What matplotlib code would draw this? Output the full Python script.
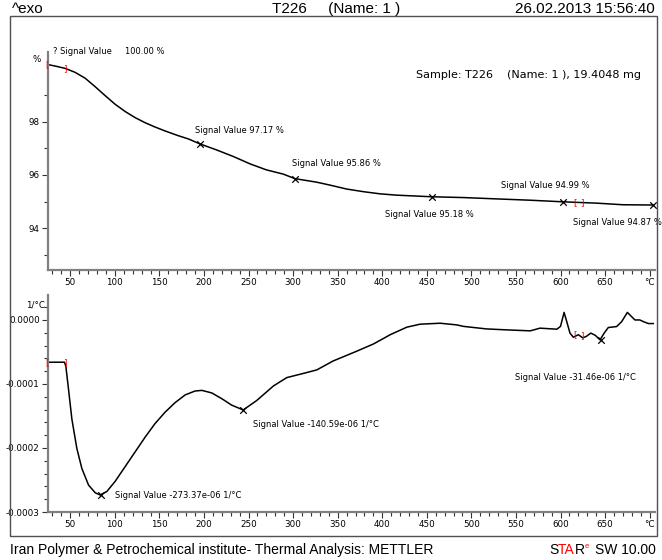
import numpy as np
import matplotlib
matplotlib.use("Agg")
import matplotlib.pyplot as plt
from matplotlib.patches import Rectangle
from matplotlib.ticker import MultipleLocator, FixedLocator, FuncFormatter

# TGA curve (temperature in degC, mass in %)
tg_T = [24, 34, 44.3, 55.5, 66.7, 78, 89, 100.4, 111.6, 122.8, 134, 145,
        156.4, 171.4, 182.6, 195, 214, 233, 252, 270, 289, 302, 326, 341,
        360, 379, 397.5, 416, 455.5, 491, 528, 566, 603, 640.5, 670, 704]
tg_v = [100.15, 100.08, 100.00, 99.85, 99.63, 99.31, 98.98, 98.65, 98.38,
        98.15, 97.96, 97.80, 97.65, 97.47, 97.35, 97.17, 96.94, 96.69, 96.41,
        96.19, 96.03, 95.86, 95.73, 95.62, 95.47, 95.37, 95.29, 95.24, 95.18,
        95.15, 95.10, 95.05, 94.99, 94.94, 94.88, 94.87]

# DTG curve (1/degC, in units of 1e-6)
dtg_T = [24, 43.5, 45, 48, 51.8, 57.4, 63, 70.5, 78, 83.5, 91, 100.4, 111.6,
         122.8, 134, 145, 156.4, 167.7, 179, 190, 197.6, 208.8, 220, 231, 244,
         259, 278, 293, 311.5, 326.6, 345, 371, 390, 409, 427.5, 442.4, 465,
         483.6, 491, 517, 540, 566, 577, 596, 600, 604, 607, 610.6, 614.4,
         620, 625, 629, 634, 639, 644.3, 649, 653.6, 663, 668.6, 675, 683.5,
         689, 693, 698.5, 704]
dtg_v = [-66, -66, -72, -108, -155, -201, -232, -258, -270, -273.4, -268,
         -252, -229, -206, -183, -162, -144, -129, -117, -111, -110, -114,
         -123, -133, -140.6, -126, -103, -90, -83.5, -78, -64, -49, -37.6,
         -23, -11.3, -6.6, -5.1, -7.7, -10, -14, -15.5, -17, -12.8, -14.4,
         -10, 11.8, -2.6, -20.5, -27, -23, -28, -25.6, -20.5, -24, -31,
         -20.5, -11.8, -10.3, -2.6, 11.8, 0, 0, -2.6, -5.6, -5.6]

# evaluated points
tg_mark_T = [195, 302, 455.5, 603, 704]
tg_mark_v = [97.17, 95.86, 95.18, 94.99, 94.87]
tg_mark_lbl = ["Signal Value 97.17 %", "Signal Value 95.86 %",
               "Signal Value 95.18 %", "Signal Value 94.99 %",
               "Signal Value 94.87 %"]
dtg_mark_T = [84, 243.6, 645]
dtg_mark_v = [-273.37, -140.59, -31.46]
dtg_mark_lbl = ["Signal Value -273.37e-06 1/\u00b0C",
                "Signal Value -140.59e-06 1/\u00b0C",
                "Signal Value -31.46e-06 1/\u00b0C"]

x_ticks = [50, 100, 150, 200, 250, 300, 350, 400, 450, 500, 550, 600, 650, 700]
x_labels = ["50", "100", "150", "200", "250", "300", "350", "400", "450",
            "500", "550", "600", "650", "\u00b0C"]

narrow = ["Liberation Sans", "DejaVu Sans"]
cond = ["DejaVu Sans Condensed", "DejaVu Sans"]
plt.rcParams["font.family"] = cond

fig = plt.figure(figsize=(6.62, 5.6), dpi=100)
W, H = 662, 560


def box(l, t, r, b):
    return [l / W, 1 - b / H, (r - l) / W, (b - t) / H]


ax1 = fig.add_axes(box(48, 52, 655, 270))
ax2 = fig.add_axes(box(48, 295, 655, 512))

spine_c = "#808080"
for ax in (ax1, ax2):
    for s in ("top", "right"):
        ax.spines[s].set_visible(False)
    for s in ("left", "bottom"):
        ax.spines[s].set_color(spine_c)
        ax.spines[s].set_linewidth(1.6)
    ax.set_xlim(25, 706)
    ax.xaxis.set_major_locator(FixedLocator(x_ticks))
    ax.set_xticklabels(x_labels)
    ax.xaxis.set_minor_locator(MultipleLocator(10))
    ax.tick_params(which="both", color="#333333", labelsize=6.3, pad=2)
    ax.tick_params(which="major", length=4, width=0.8)
    ax.tick_params(which="minor", length=3, width=0.8)

ax1.plot(tg_T, tg_v, color="black", lw=1.1)
ax1.scatter(tg_mark_T, tg_mark_v, marker="x", color="black", s=22, lw=0.9,
            zorder=3, clip_on=False)
ax1.set_ylim(92.43, 100.615)
ax1.yaxis.set_major_locator(FixedLocator([94, 96, 98]))
ax1.yaxis.set_minor_locator(FixedLocator([93, 95, 97, 99]))
ax1.text(-0.012, 0.985, "%", transform=ax1.transAxes, ha="right", va="top",
         fontsize=6.3)

ax2.plot(dtg_T, np.array(dtg_v) * 1e-6, color="black", lw=1.1)
ax2.scatter(dtg_mark_T, np.array(dtg_mark_v) * 1e-6, marker="x",
            color="black", s=22, lw=0.9, zorder=3)
ax2.set_ylim(-0.0003, 0.000039)
ax2.yaxis.set_major_locator(FixedLocator([0, -0.0001, -0.0002, -0.0003]))
ax2.yaxis.set_minor_locator(MultipleLocator(0.00002))
ax2.yaxis.set_major_formatter(FuncFormatter(lambda v, p: "%.4f" % v
                                            if abs(v) > 1e-9 else "0.0000"))
ax2.text(-0.005, 0.975, "1/\u00b0C", transform=ax2.transAxes, ha="right",
         va="top", fontsize=6.3)

# labels of evaluated points
fs = 6.0
ax1.text(31, 100.615, "? Signal Value     100.00 %", fontsize=fs,
         va="center", clip_on=False)
tg_lbl_xy = [(190, 97.66), (299, 96.41), (403, 94.50), (533, 95.59),
             (614, 94.20)]
for (x, y), s in zip(tg_lbl_xy, tg_mark_lbl):
    ax1.text(x, y, s, fontsize=fs, va="center", clip_on=False)
dtg_lbl_xy = [(100, -0.000275), (255, -0.000164), (549, -0.0000906)]
for (x, y), s in zip(dtg_lbl_xy, dtg_mark_lbl):
    ax2.text(x, y, s, fontsize=fs, va="center")

# evaluation limits (red brackets)
for ax, pts in ((ax1, [(24, "[", 100.15), (44.3, "]", 100.0),
                       (616, "[", 94.97), (624.5, "]", 94.96)]),
                (ax2, [(24, "[", -66e-6), (44, "]", -66e-6),
                       (616, "[", -23e-6), (624.5, "]", -25e-6)])):
    for x, b, y in pts:
        ax.text(x, y, b, color="red", fontsize=6.3, ha="center", va="center",
                clip_on=False)

ax1.text(438, 99.75, "Sample: T226    (Name: 1 ), 19.4048 mg", fontsize=8,
         va="center")

# frame, header and footer
fig.patches.append(Rectangle((10 / W, 1 - 536 / H), 647 / W, 520 / H,
                             transform=fig.transFigure, fill=False,
                             edgecolor="#505050", lw=1.0))
hfs = 11
fig.text(12 / W, 1 - 9 / H, "^exo", fontsize=hfs, family=narrow, va="center")
fig.text(272 / W, 1 - 9 / H, "T226     (Name: 1 )", fontsize=hfs,
         family=narrow, va="center")
fig.text(655 / W, 1 - 9 / H, "26.02.2013 15:56:40", fontsize=hfs,
         family=narrow, va="center", ha="right")
ffs = 10
fig.text(10 / W, 1 - 550 / H,
         "Iran Polymer & Petrochemical institute- Thermal Analysis: METTLER",
         fontsize=ffs, family=narrow, va="center")
fig.text(656 / W, 1 - 550 / H, "SW 10.00", fontsize=ffs, family=narrow,
         va="center", ha="right")
x0 = 549
for ch, col in (("S", "black"), ("TA", "red"), ("R", "black")):
    t = fig.text(x0 / W, 1 - 550 / H, ch, fontsize=ffs, family=narrow,
                 va="center", color=col)
    fig.canvas.draw()
    x0 += t.get_window_extent().width
fig.text(x0 / W, 1 - 546 / H, "e", fontsize=5.5, family=narrow, va="center",
         color="red")

fig.savefig("out.png", dpi=100)
